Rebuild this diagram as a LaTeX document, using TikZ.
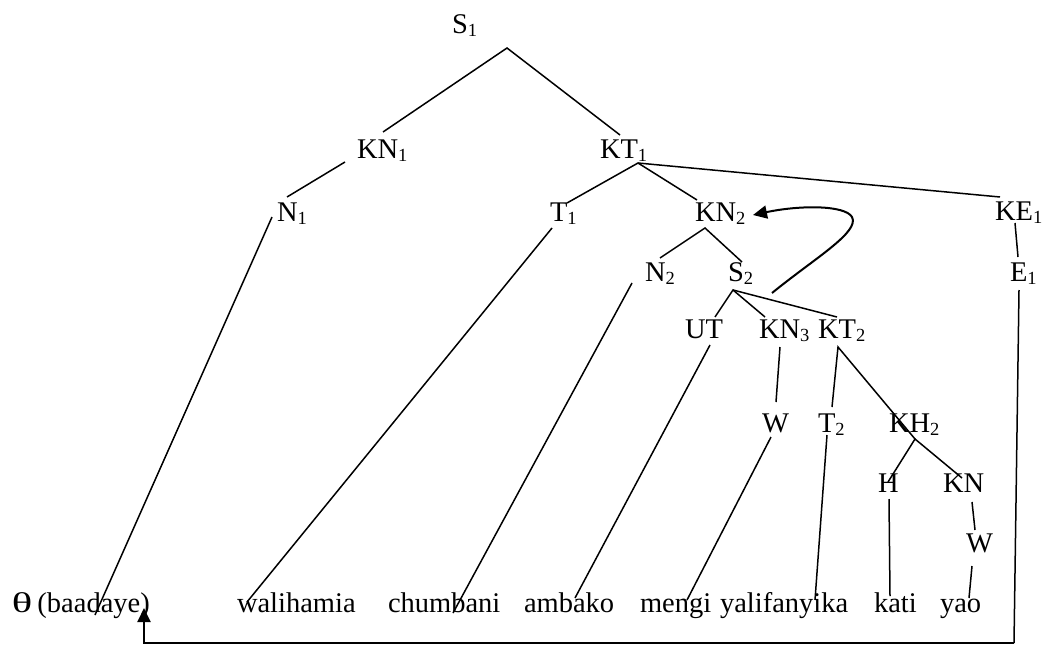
\documentclass[tikz,border=0pt]{standalone}
\usepackage{fontspec}
\usepackage{graphicx}
\setmainfont{Liberation Serif}
\usetikzlibrary{arrows.meta}
\newcommand\idx[1]{\raisebox{-0.13em}{\fontsize{18.5}{18.5}\selectfont #1}}
\begin{document}
\begin{tikzpicture}[x=1pt,y=-1pt,
  lbl/.style={anchor=base west,inner sep=0pt,outer sep=0pt,font=\fontsize{28.5}{30}\selectfont},
  branch/.style={line width=1.5pt},
  mover/.style={line width=2pt,-{Triangle[length=14pt,width=13pt]}}]
\useasboundingbox (0,0) rectangle (1046,645);

% category labels
\node[lbl] (s1)  at (452,33)  {S\idx{1}};
\node[lbl] (kn1) at (357,158) {KN\idx{1}};
\node[lbl] (kt1) at (600,158) {KT\idx{1}};
\node[lbl] (n1)  at (277,221) {N\idx{1}};
\node[lbl] (t1)  at (550,221) {T\idx{1}};
\node[lbl] (kn2) at (695,221) {KN\idx{2}};
\node[lbl] (ke1) at (995,220) {KE\idx{1}};
\node[lbl] (n2)  at (645,281) {N\idx{2}};
\node[lbl] (s2)  at (728,281) {S\idx{2}};
\node[lbl] (e1)  at (1010,281) {E\idx{1}};
\node[lbl] (ut)  at (685,338) {UT};
\node[lbl] (kn3) at (759,338) {KN\idx{3}};
\node[lbl] (kt2) at (818,338) {KT\idx{2}};
\node[lbl] (wa)  at (762,432) {W};
\node[lbl] (t2)  at (818,432) {T\idx{2}};
\node[lbl] (kh2) at (889,432) {KH\idx{2}};
\node[lbl] (h)   at (878,492) {H};
\node[lbl] (kn)  at (943,492) {KN};
\node[lbl] (wb)  at (966,552) {W};

% words
\node[lbl] (w0) at (12,612)  {\scalebox{1.5}[1]{θ}\hspace{5pt}(baadaye)};
\node[lbl] (w1) at (237,612) {walihamia};
\node[lbl] (w2) at (388,612) {chumbani};
\node[lbl] (w3) at (524,612) {ambako};
\node[lbl] (w4) at (640,612) {mengi};
\node[lbl] (w5) at (720,612) {yalifanyika};
\node[lbl] (w6) at (874,612) {kati};
\node[lbl] (w7) at (940,612) {yao};

% branching points and line ends
\coordinate (s1b)  at (507,48);
\coordinate (kn1t) at (383,132);
\coordinate (kt1t) at (620,135);
\coordinate (kn1b) at (345,162);
\coordinate (n1t)  at (287,197);
\coordinate (kt1b) at (638,163);
\coordinate (t1t)  at (567,203);
\coordinate (kn2t) at (697,200);
\coordinate (ke1t) at (1000,197);
\coordinate (ke1b) at (1015,223);
\coordinate (e1t)  at (1018,257);
\coordinate (e1b)  at (1019,290);
\coordinate (n1b)  at (272,217);
\coordinate (w0t)  at (95,615);
\coordinate (t1b)  at (552,228);
\coordinate (w1t)  at (247,602);
\coordinate (kn2b) at (705,228);
\coordinate (n2t)  at (660,258);
\coordinate (s2t)  at (742,262);
\coordinate (n2b)  at (632,283);
\coordinate (w2t)  at (453,613);
\coordinate (s2b)  at (733,290);
\coordinate (utt)  at (715,317);
\coordinate (kn3t) at (765,317);
\coordinate (kt2t) at (837,317);
\coordinate (utb)  at (710,345);
\coordinate (w3t)  at (575,598);
\coordinate (kn3b) at (780,347);
\coordinate (wat)  at (776,402);
\coordinate (wab)  at (771,437);
\coordinate (w4t)  at (687,600);
\coordinate (kt2b) at (838,347);
\coordinate (t2t)  at (832,407);
\coordinate (kh2b) at (915,439);
\coordinate (t2b)  at (827,435);
\coordinate (w5t)  at (815,600);
\coordinate (ht)   at (888,482);
\coordinate (knt)  at (962,478);
\coordinate (hb)   at (889,499);
\coordinate (w6t)  at (890,596);
\coordinate (knb)  at (972,502);
\coordinate (wbt)  at (975,530);
\coordinate (wbb)  at (972,566);
\coordinate (w7t)  at (969,598);
\coordinate (corner) at (1014,643);
\coordinate (cornerl) at (144,643);
\coordinate (w0b)  at (144,608);
\coordinate (s2m)  at (772,293);
\coordinate (kn2m) at (753,215);

% tree branches
\draw[branch] (kn1t) -- (s1b) -- (kt1t);
\draw[branch] (kn1b) -- (n1t);
\draw[branch] (t1t) -- (kt1b) -- (kn2t);
\draw[branch] (kt1b) -- (ke1t);
\draw[branch] (ke1b) -- (e1t);
\draw[branch] (n1b) -- (w0t);
\draw[branch] (t1b) -- (w1t);
\draw[branch] (n2t) -- (kn2b) -- (s2t);
\draw[branch] (n2b) -- (w2t);
\draw[branch] (utt) -- (s2b) -- (kn3t);
\draw[branch] (s2b) -- (kt2t);
\draw[branch] (utb) -- (w3t);
\draw[branch] (kn3b) -- (wat);
\draw[branch] (wab) -- (w4t);
\draw[branch] (t2t) -- (kt2b) -- (kh2b);
\draw[branch] (t2b) -- (w5t);
\draw[branch] (ht) -- (kh2b) -- (knt);
\draw[branch] (hb) -- (w6t);
\draw[branch] (knb) -- (wbt);
\draw[branch] (wbb) -- (w7t);

% movement arrows
\draw[mover] (s2m) .. controls (815,258) and (860,232) .. (852,217)
  .. controls (845,205) and (800,205) .. (kn2m);
\draw[branch] (e1b) -- (corner);
\draw[mover] (corner) -- (cornerl) -- (w0b);
\end{tikzpicture}
\end{document}
